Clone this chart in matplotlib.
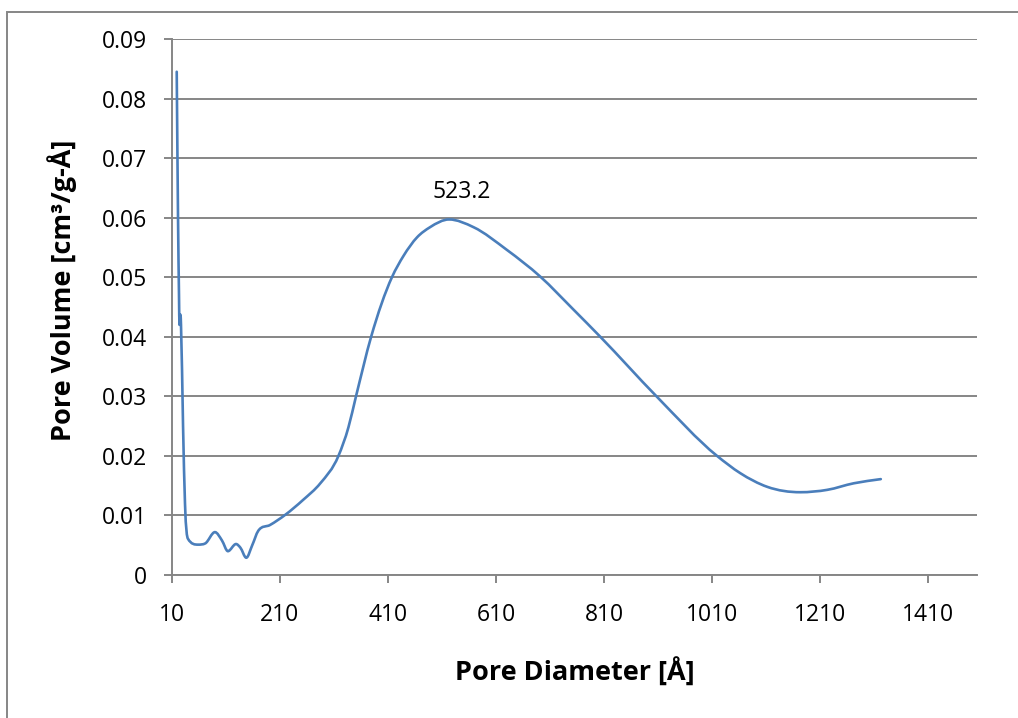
import matplotlib
matplotlib.use("Agg")
import matplotlib.pyplot as plt
from matplotlib.patches import Rectangle, PathPatch
from matplotlib.path import Path

# Pore size distribution (BJH-style), diameter in Å vs. pore volume
diameter = [19.3, 21.7, 23.5, 24.4, 26.3, 27.2, 31.0, 34.6, 40.0,
            59.0, 72.0, 90.0, 103.0, 114.0, 129.0, 137.0, 148.0, 159.0,
            170.0, 192.0, 220.0, 253.0, 285.0, 318.5, 337.0, 351.0,
            379.0, 417.5, 439.0, 464.0, 488.0, 523.2, 568.5, 630.0,
            692.0, 753.0, 803.0, 907.0, 1019.0, 1062.0,
            1112.0, 1173.0, 1223.0, 1272.0, 1322.0]
volume = [0.0845, 0.0600, 0.0470, 0.0420, 0.0437, 0.0420, 0.0250, 0.0120, 0.0061,
          0.0051, 0.0053, 0.0072, 0.0058, 0.0040, 0.0052, 0.0046, 0.0029, 0.0050,
          0.0074, 0.0084, 0.0101, 0.0126, 0.0154, 0.0200, 0.0248, 0.0300,
          0.0400, 0.0500, 0.0536, 0.0567, 0.0584, 0.0597, 0.0584, 0.0546,
          0.0501, 0.0446, 0.0400, 0.0300, 0.0200, 0.0171,
          0.0148, 0.0139, 0.0143, 0.0154, 0.0161]

peak_diameter = 523.2
peak_volume = 0.0597

x_ticks = [10, 210, 410, 610, 810, 1010, 1210, 1410]
y_ticks = [0, 0.01, 0.02, 0.03, 0.04, 0.05, 0.06, 0.07, 0.08, 0.09]
y_tick_labels = ["0", "0.01", "0.02", "0.03", "0.04", "0.05", "0.06", "0.07", "0.08", "0.09"]

plt.rcParams["font.family"] = ["Open Sans", "DejaVu Sans"]


def smooth_path(xs, ys):
    """Shape-preserving cubic Hermite path (as Bezier segments) through every point."""
    n = len(xs)
    h = [xs[i + 1] - xs[i] for i in range(n - 1)]
    d = [(ys[i + 1] - ys[i]) / h[i] for i in range(n - 1)]
    m = [d[0]] + [0.0] * (n - 2) + [d[-1]]
    for i in range(1, n - 1):
        if d[i - 1] * d[i] <= 0:
            m[i] = 0.0
            continue
        s = (h[i] * d[i - 1] + h[i - 1] * d[i]) / (h[i - 1] + h[i])
        lim = 3 * min(abs(d[i - 1]), abs(d[i]))
        m[i] = max(-lim, min(lim, s))
    verts = [(xs[0], ys[0])]
    codes = [Path.MOVETO]
    for i in range(n - 1):
        t = h[i] / 3
        verts += [(xs[i] + t, ys[i] + m[i] * t),
                  (xs[i + 1] - t, ys[i + 1] - m[i + 1] * t),
                  (xs[i + 1], ys[i + 1])]
        codes += [Path.CURVE4] * 3
    return Path(verts, codes)


W, H = 1018, 718
fig = plt.figure(figsize=(W / 100, H / 100), dpi=100)
ax = fig.add_axes([171.7 / W, 1 - 575 / H, (977 - 171.7) / W, (575 - 39) / H])

grid_color = "#868686"
line_color = "#4A7EBB"

curve = PathPatch(smooth_path(diameter, volume), facecolor="none",
                  edgecolor=line_color, linewidth=1.9,
                  joinstyle="round", capstyle="round", zorder=3)
ax.add_patch(curve)

ax.annotate(f"{peak_diameter:.1f}", xy=(peak_diameter, peak_volume),
            xytext=(13, 27), textcoords="offset pixels",
            ha="center", va="center", fontsize=16.5, color="black")

ax.set_xlim(10, 1500)
ax.set_ylim(0, 0.09)
ax.set_xticks(x_ticks)
ax.set_xticklabels([str(v) for v in x_ticks])
ax.set_yticks(y_ticks)
ax.set_yticklabels(y_tick_labels)

ax.grid(axis="y", color=grid_color, linewidth=1.4, zorder=1)
ax.set_axisbelow(True)
for side in ("top", "right"):
    ax.spines[side].set_visible(False)
for side in ("left", "bottom"):
    ax.spines[side].set_color(grid_color)
    ax.spines[side].set_linewidth(1.4)

ax.tick_params(axis="both", which="major", direction="out", length=6,
               width=1.4, color=grid_color, labelsize=16.5, labelcolor="black")
ax.tick_params(axis="y", pad=12)
ax.tick_params(axis="x", pad=14)

ax.set_xlabel("Pore Diameter [Å]", fontsize=19.5, fontweight="bold", labelpad=0)
ax.set_ylabel("Pore Volume [cm³/g-Å]", fontsize=19.5, fontweight="bold", labelpad=0)
ax.xaxis.set_label_coords(0.5, -(672 - 575) / (575 - 39), transform=ax.transAxes)
ax.yaxis.set_label_coords(-(171.7 - 62) / (977 - 171.7), (575 - 290) / (575 - 39),
                          transform=ax.transAxes)
ax.xaxis.label.set_va("center")
ax.yaxis.label.set_va("center")

# Outer chart-area frame
fig.patches.append(Rectangle((6.5 / W, -0.5), 2.0, 0.5 + 1 - 12 / H,
                             transform=fig.transFigure, fill=False,
                             edgecolor=grid_color, linewidth=1.4))

fig.savefig("out.png", dpi=100)
